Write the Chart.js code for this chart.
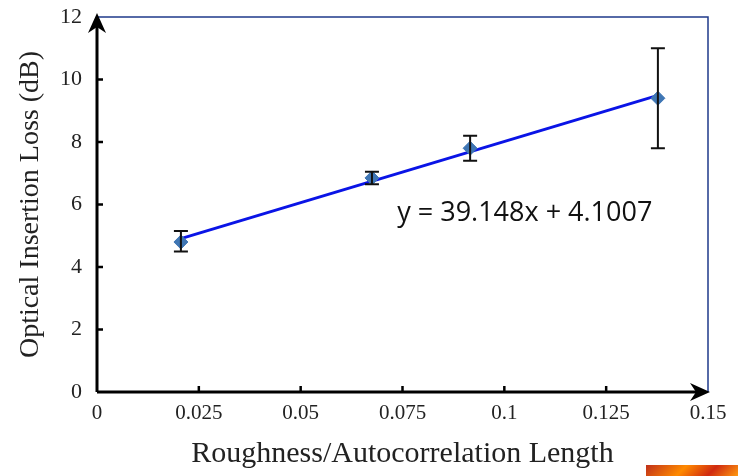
<!DOCTYPE html>
<html>
<head>
<meta charset="utf-8">
<script src="https://cdn.jsdelivr.net/npm/chart.js@4"></script>
<style>
  html, body { margin: 0; padding: 0; background: #fff; }
  #wrap { position: relative; width: 738px; height: 476px; overflow: hidden; }
  #chart { display: block; }
  .corner { position: absolute; right: 0; bottom: 0; width: 92px; height: 11px;
    background: linear-gradient(135deg, #c0301a 0%, #ff8a00 40%, #d02a10 70%, #ff9a10 100%); }
</style>
</head>
<body>
<div id="wrap">
  <canvas id="chart" width="738" height="476"></canvas>
  <div class="corner"></div>
</div>
<script>
// measured points
const roughness = [0.0206, 0.0675, 0.0916, 0.1377];
const lossDb = [4.8, 6.85, 7.8, 9.4];
const errLow = [4.5, 6.65, 7.4, 7.8];
const errHigh = [5.15, 7.05, 8.2, 11.0];

// linear fit y = 39.148x + 4.1007
const fitX = [0.0206, 0.1377];
const fitY = [4.91, 9.49];
const fitLabel = "y = 39.148x + 4.1007";

const xTicks = [0, 0.025, 0.05, 0.075, 0.1, 0.125, 0.15];
const xTickText = ["0", "0.025", "0.05", "0.075", "0.1", "0.125", "0.15"];

const serif = "'Liberation Serif', 'DejaVu Serif', serif";

const errorBars = {
    id: "errorBars",
    afterDatasetsDraw(chart) {
        const ctx = chart.ctx;
        const xs = chart.scales.x, ys = chart.scales.y;
        ctx.save();
        ctx.strokeStyle = "#111";
        ctx.lineWidth = 2;
        roughness.forEach((x, i) => {
            const px = xs.getPixelForValue(x);
            const lo = ys.getPixelForValue(errLow[i]);
            const hi = ys.getPixelForValue(errHigh[i]);
            ctx.beginPath();
            ctx.moveTo(px, lo); ctx.lineTo(px, hi);
            ctx.moveTo(px - 7, lo); ctx.lineTo(px + 7, lo);
            ctx.moveTo(px - 7, hi); ctx.lineTo(px + 7, hi);
            ctx.stroke();
        });
        ctx.restore();
    }
};

const frame = {
    id: "frame",
    beforeDatasetsDraw(chart) {
        const ctx = chart.ctx;
        const a = chart.chartArea;
        const xs = chart.scales.x, ys = chart.scales.y;
        ctx.save();
        // top/right border
        ctx.strokeStyle = "#1f3a8a";
        ctx.lineWidth = 1.5;
        ctx.beginPath();
        ctx.moveTo(a.left, a.top); ctx.lineTo(a.right, a.top); ctx.lineTo(a.right, a.bottom);
        ctx.stroke();
        // axes
        ctx.strokeStyle = "#000";
        ctx.fillStyle = "#000";
        ctx.lineWidth = 3;
        ctx.beginPath();
        ctx.moveTo(a.left, a.bottom); ctx.lineTo(a.left, a.top + 6);
        ctx.moveTo(a.left, a.bottom); ctx.lineTo(a.right - 6, a.bottom);
        ctx.stroke();
        // arrow heads
        ctx.beginPath();
        ctx.moveTo(a.left, a.top - 4);
        ctx.lineTo(a.left - 9, a.top + 16);
        ctx.lineTo(a.left, a.top + 10);
        ctx.lineTo(a.left + 9, a.top + 16);
        ctx.closePath();
        ctx.fill();
        ctx.beginPath();
        ctx.moveTo(a.right + 2, a.bottom);
        ctx.lineTo(a.right - 18, a.bottom - 9);
        ctx.lineTo(a.right - 12, a.bottom);
        ctx.lineTo(a.right - 18, a.bottom + 9);
        ctx.closePath();
        ctx.fill();
        // inward tick marks
        ctx.lineWidth = 2.5;
        ctx.beginPath();
        xTicks.slice(1, -1).forEach(v => {
            const px = xs.getPixelForValue(v);
            ctx.moveTo(px, a.bottom); ctx.lineTo(px, a.bottom - 6);
        });
        ys.ticks.slice(1, -1).forEach(t => {
            const py = ys.getPixelForValue(t.value);
            ctx.moveTo(a.left, py); ctx.lineTo(a.left + 6, py);
        });
        ctx.stroke();
        // equation
        ctx.fillStyle = "#111";
        ctx.font = "27px 'Open Sans', 'Liberation Sans', sans-serif";
        ctx.textBaseline = "middle";
        ctx.fillText(fitLabel, xs.getPixelForValue(0.0737), ys.getPixelForValue(5.73));
        ctx.restore();
    }
};

new Chart(document.getElementById("chart"), {
    type: "scatter",
    data: {
        datasets: [
            {
                label: "fit",
                data: fitX.map((x, i) => ({ x: x, y: fitY[i] })),
                showLine: true,
                borderColor: "#0a14e6",
                borderWidth: 3,
                pointRadius: 0,
                order: 2
            },
            {
                label: "loss",
                data: roughness.map((x, i) => ({ x: x, y: lossDb[i] })),
                pointStyle: "rectRot",
                pointRadius: 7,
                backgroundColor: "#3f76b4",
                borderColor: "#3f76b4",
                order: 1
            }
        ]
    },
    plugins: [frame, errorBars],
    options: {
        responsive: false,
        animation: false,
        layout: { padding: { top: 17, right: 30, left: 0, bottom: 0 } },
        plugins: { legend: { display: false }, tooltip: { enabled: false } },
        scales: {
            x: {
                type: "linear",
                min: 0, max: 0.15,
                afterBuildTicks(scale) { scale.ticks = xTicks.map(v => ({ value: v })); },
                afterFit(scale) { scale.height = 84; },
                grid: { display: false, drawTicks: false },
                border: { display: false },
                ticks: {
                    padding: 9,
                    color: "#222",
                    font: { family: serif, size: 21 },
                    callback: (v) => xTickText[xTicks.indexOf(v)] ?? ""
                },
                title: {
                    display: true,
                    text: "Roughness/Autocorrelation Length",
                    color: "#222",
                    font: { family: serif, size: 30 },
                    padding: { top: 2 }
                }
            },
            y: {
                min: 0, max: 12,
                afterFit(scale) {
                    scale.width = 97;
                    scale.paddingTop = 0;
                    scale.paddingBottom = 0;
                },
                grid: { display: false, drawTicks: false },
                border: { display: false },
                ticks: {
                    stepSize: 2,
                    padding: 15,
                    color: "#222",
                    font: { family: serif, size: 22 }
                },
                title: {
                    display: true,
                    text: "Optical Insertion Loss (dB)",
                    color: "#222",
                    font: { family: serif, size: 28 },
                    padding: { top: 14, bottom: 0 }
                }
            }
        }
    }
});
</script>
</body>
</html>
